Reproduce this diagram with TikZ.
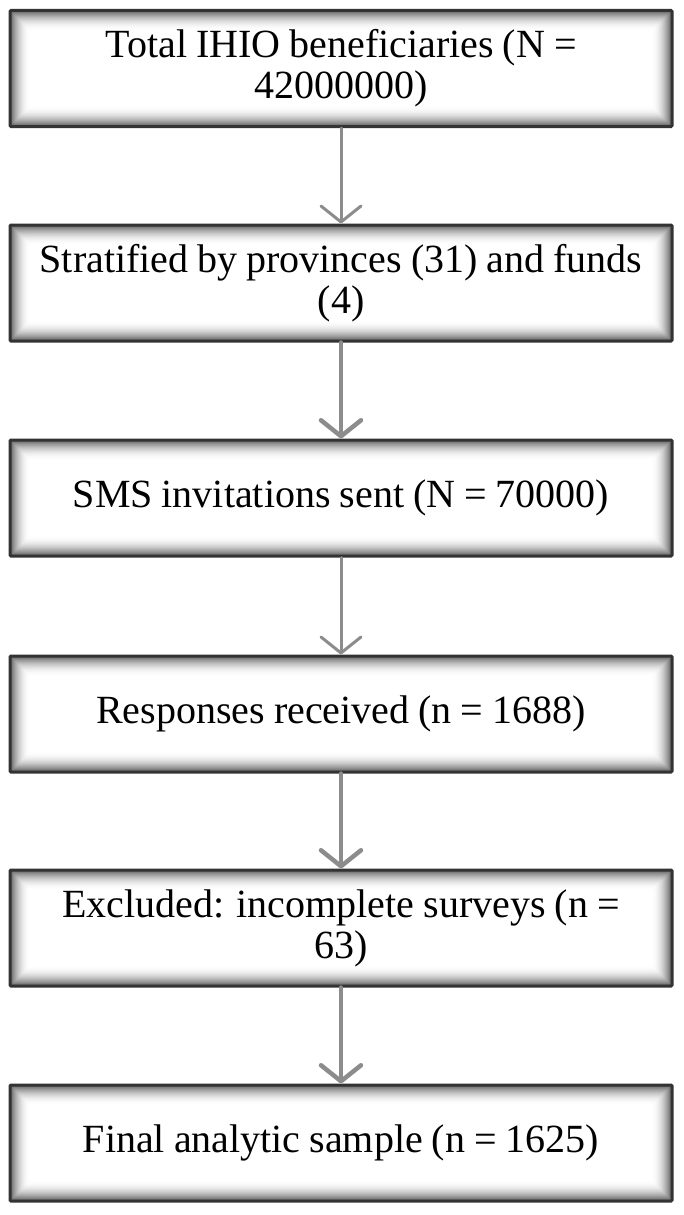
\documentclass[tikz,border=0pt]{standalone}
\usepackage{fontspec}
\setmainfont[WordSpace=0.9]{Liberation Serif}
\usetikzlibrary{arrows.meta}
\definecolor{arrgray}{HTML}{8C8C8C}
\definecolor{boxedge}{HTML}{333333}
\tikzset{
  flowbox/.style={draw=boxedge, line width=3pt, rounded corners=1pt,
    minimum width=662pt, minimum height=116pt,
    align=center, inner sep=0pt,
    font=\fontsize{40}{41}\selectfont,
    path picture={
      \foreach \i in {0,...,20}{
        \pgfmathsetmacro{\c}{max(0,62*(1-\i/20)^2)}
        \fill[black!\c] ([shift={(\i*1pt,\i*1pt)}]path picture bounding box.south west)
          rectangle ([shift={(-\i*1pt,-\i*1pt)}]path picture bounding box.north east);
      }
      \fill[white] ([shift={(21pt,21pt)}]path picture bounding box.south west)
          rectangle ([shift={(-21pt,-21pt)}]path picture bounding box.north east);
    }},
  thinarr/.style={draw=arrgray, line width=3pt, line cap=round,
    -{Straight Barb[length=16pt,width=40pt,line width=3pt,round]}},
  thickarr/.style={draw=arrgray, line width=4.5pt, line cap=round,
    -{Straight Barb[length=16pt,width=40pt,line width=4.5pt,round]}}
}
\begin{document}
\begin{tikzpicture}[x=1pt,y=1pt]
\useasboundingbox (0,0) rectangle (683,-1215);
\node[flowbox] (b1) at (341,-68.5) {Total IHIO beneficiaries (N =\\42000000)};
\node[flowbox] (b2) at (341,-283) {Stratified by provinces (31) and funds\\(4)};
\node[flowbox] (b3) at (341,-498) {SMS invitations sent (N = 70000)};
\node[flowbox] (b4) at (341,-714) {Responses received (n = 1688)};
\node[flowbox] (b5) at (341,-928) {Excluded: incomplete surveys (n =\\63)};
\node[flowbox] (b6) at (341,-1143) {Final analytic sample (n = 1625)};
\draw[thinarr] (b1.south) -- (b2.north);
\draw[thickarr] (b2.south) -- (b3.north);
\draw[thinarr] (b3.south) -- (b4.north);
\draw[thickarr] (b4.south) -- (b5.north);
\draw[thickarr] (b5.south) -- (b6.north);
\end{tikzpicture}
\end{document}
